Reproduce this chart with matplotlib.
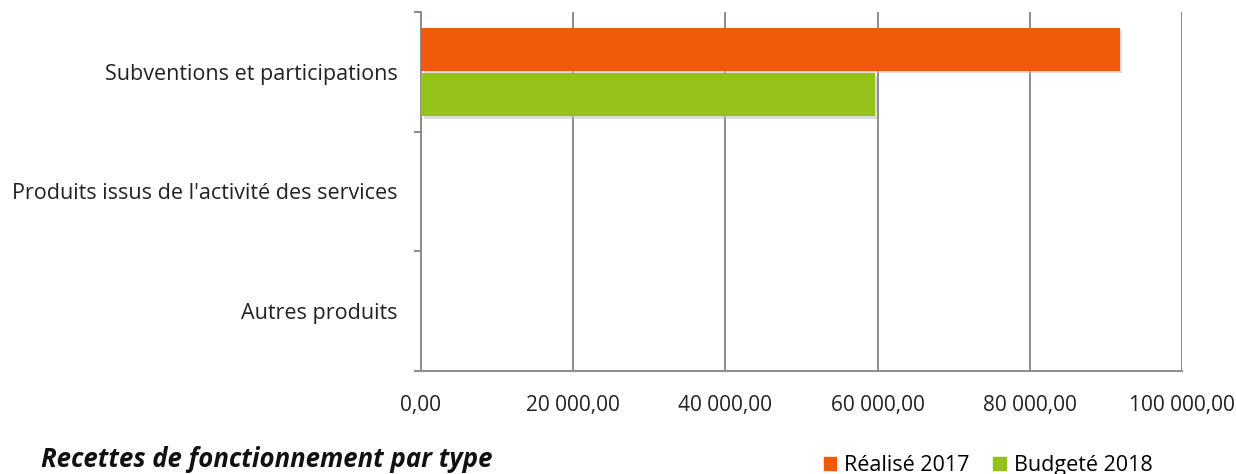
import numpy as np
import matplotlib.pyplot as plt
from matplotlib.ticker import FuncFormatter, FixedLocator
from matplotlib.patches import Patch
import matplotlib.patheffects as pe

plt.rcParams['font.family'] = ['Open Sans', 'DejaVu Sans']

categories = ["Subventions et participations",
              "Produits issus de l'activité des services",
              "Autres produits"]
realise_2017 = [91800, 0, 0]
budget_2018 = [59600, 0, 0]
series_names = ["Réalisé 2017", "Budgeté 2018"]
colors = ["#EF5A0B", "#95C11B"]
title = "Recettes de fonctionnement par type"


def fr_fmt(v, pos):
    s = f"{v:,.2f}"
    return s.replace(",", " ").replace(".", ",")


fig = plt.figure(figsize=(12.36, 4.74), dpi=100)
ax = fig.add_axes([0.3406, 0.2173, 0.6157, 0.7574])

y = np.arange(len(categories))
h = 0.36
shadow = [pe.SimplePatchShadow(offset=(2, -2), shadow_rgbFace='#bbbbbb', alpha=0.5), pe.Normal()]
b1 = ax.barh(y - h / 2 - 0.01, realise_2017, height=h, color=colors[0], zorder=3)
b2 = ax.barh(y + h / 2 + 0.01, budget_2018, height=h, color=colors[1], zorder=3)
for bars in (b1, b2):
    for p in bars:
        if p.get_width() > 0:
            p.set_path_effects(shadow)

ax.set_xlim(0, 100000)
ax.set_ylim(len(categories) - 0.5, -0.5)
ax.set_xticks(np.arange(0, 100001, 20000))
ax.xaxis.set_major_formatter(FuncFormatter(fr_fmt))
ax.grid(axis='x', color='#8c8c8c', linewidth=1.4, zorder=0)
ax.tick_params(axis='x', length=0, pad=17, labelsize=15, labelcolor='#222222')

# category boundaries as major ticks, labels on minor ticks at centres
ax.yaxis.set_major_locator(FixedLocator(np.arange(-0.5, len(categories), 1.0)))
ax.yaxis.set_major_formatter(FuncFormatter(lambda v, p: ""))
ax.yaxis.set_minor_locator(FixedLocator(y))
ax.set_yticklabels(categories, minor=True)
ax.tick_params(axis='y', which='major', length=5, width=1.4, color='#8c8c8c', direction='out')
ax.tick_params(axis='y', which='minor', length=0, pad=17, labelsize=15.5, labelcolor='#222222')

for s in ['top', 'right']:
    ax.spines[s].set_visible(False)
for s in ['left', 'bottom']:
    ax.spines[s].set_color('#8c8c8c')
    ax.spines[s].set_linewidth(1.4)

fig.text(0.033, 0.015, title, fontsize=18.5, fontweight='bold', fontstyle='italic', color='#111111')
handles = [Patch(color=c, label=n) for c, n in zip(colors, series_names)]
fig.legend(handles=handles, loc='lower right', bbox_to_anchor=(0.948, -0.045), ncol=2, frameon=False,
           fontsize=15.5, handlelength=0.6, handleheight=0.6, handletextpad=0.35, columnspacing=1.1)

fig.savefig("out.png", dpi=100)
